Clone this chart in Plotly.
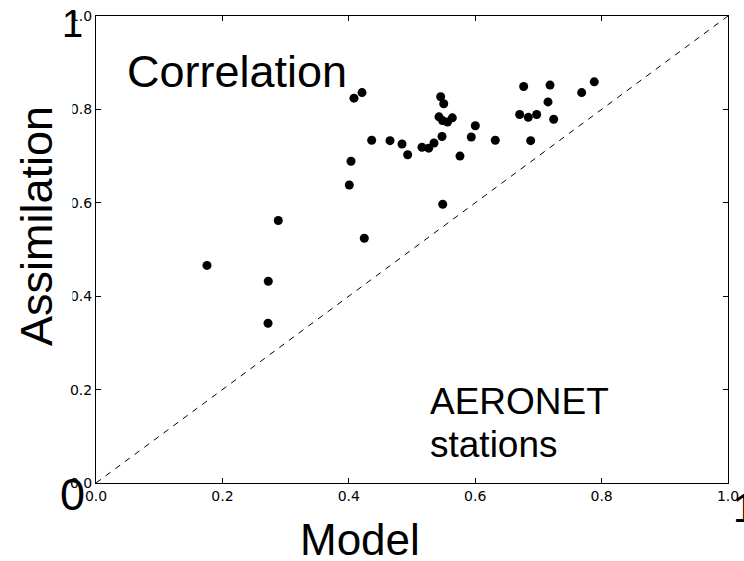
import plotly.graph_objects as go

model = [0.1756, 0.2726, 0.2722, 0.2884, 0.4008, 0.4035, 0.4082, 0.4209, 0.4245, 0.4362,
         0.4652, 0.4842, 0.4932, 0.5158, 0.5264, 0.5348, 0.5454, 0.5502, 0.5427, 0.5483,
         0.5562, 0.5638, 0.5475, 0.5486, 0.5759, 0.5938, 0.6002, 0.6318, 0.6704, 0.6767,
         0.6840, 0.6973, 0.6878, 0.7184, 0.7152, 0.7242, 0.7685, 0.7884]
assim = [0.466, 0.432, 0.342, 0.562, 0.638, 0.689, 0.824, 0.836, 0.524, 0.734,
         0.733, 0.726, 0.703, 0.719, 0.717, 0.728, 0.827, 0.812, 0.784, 0.776,
         0.773, 0.782, 0.742, 0.597, 0.700, 0.741, 0.765, 0.734, 0.789, 0.849,
         0.783, 0.789, 0.733, 0.852, 0.816, 0.779, 0.836, 0.859]
diag = [0.0, 1.0]
tick_vals = [0.0, 0.2, 0.4, 0.6, 0.8, 1.0]
tick_text = ["0.0", "0.2", "0.4", "0.6", "0.8", "1.0"]

fig = go.Figure()
fig.add_trace(go.Scatter(x=diag, y=diag, mode="lines",
                         line=dict(color="black", width=1, dash="6px,6px"),
                         hoverinfo="skip", showlegend=False))
fig.add_trace(go.Scatter(x=model, y=assim, mode="markers",
                         marker=dict(color="black", size=9, line=dict(width=0)),
                         showlegend=False))

axis_common = dict(range=[0, 1], tickvals=tick_vals, ticktext=tick_text,
                   ticks="inside", ticklen=5, tickcolor="black", tickwidth=1,
                   showline=True, linecolor="black", linewidth=1, mirror="ticks",
                   showgrid=False, zeroline=False, automargin=False,
                   tickfont=dict(family="DejaVu Sans", size=14, color="black"))
fig.update_xaxes(**axis_common)
fig.update_yaxes(**axis_common)

big = "Liberation Sans, Arial, sans-serif"
ann = [
    dict(text="Correlation", x=0.046, y=0.881, xanchor="left", yanchor="middle", size=45),
    dict(text="AERONET", x=0.526, y=0.1745, xanchor="left", yanchor="middle", size=37),
    dict(text="stations", x=0.526, y=0.0824, xanchor="left", yanchor="middle", size=37),
    dict(text="Model", x=0.4177, y=-0.12, xanchor="center", yanchor="middle", size=44),
    dict(text="1", x=-0.0372, y=0.983, xanchor="center", yanchor="middle", size=38),
    dict(text="0", x=-0.0364, y=-0.0236, xanchor="center", yanchor="middle", size=45),
    dict(text="1", x=1.026, y=-0.0525, xanchor="center", yanchor="middle", size=40),
]
annotations = []
for a in ann:
    annotations.append(dict(text=a["text"], x=a["x"], y=a["y"], xref="paper", yref="paper",
                            xanchor=a["xanchor"], yanchor=a["yanchor"], showarrow=False,
                            font=dict(family=big, size=a["size"], color="black")))
annotations.append(dict(text="Assimilation", x=-0.0951, y=0.550, xref="paper", yref="paper",
                        xanchor="center", yanchor="middle", showarrow=False, textangle=-90,
                        font=dict(family=big, size=45, color="black")))

fig.update_layout(
    width=744, height=561,
    margin=dict(l=96, r=16, t=16, b=78),
    paper_bgcolor="white", plot_bgcolor="white",
    annotations=annotations,
    shapes=[dict(type="rect", xref="paper", yref="paper", x0=-0.075, x1=-0.0372,
                 y0=0.285, y1=0.949, fillcolor="white", line=dict(width=0), layer="above")],
)

fig.write_html("out.html")
